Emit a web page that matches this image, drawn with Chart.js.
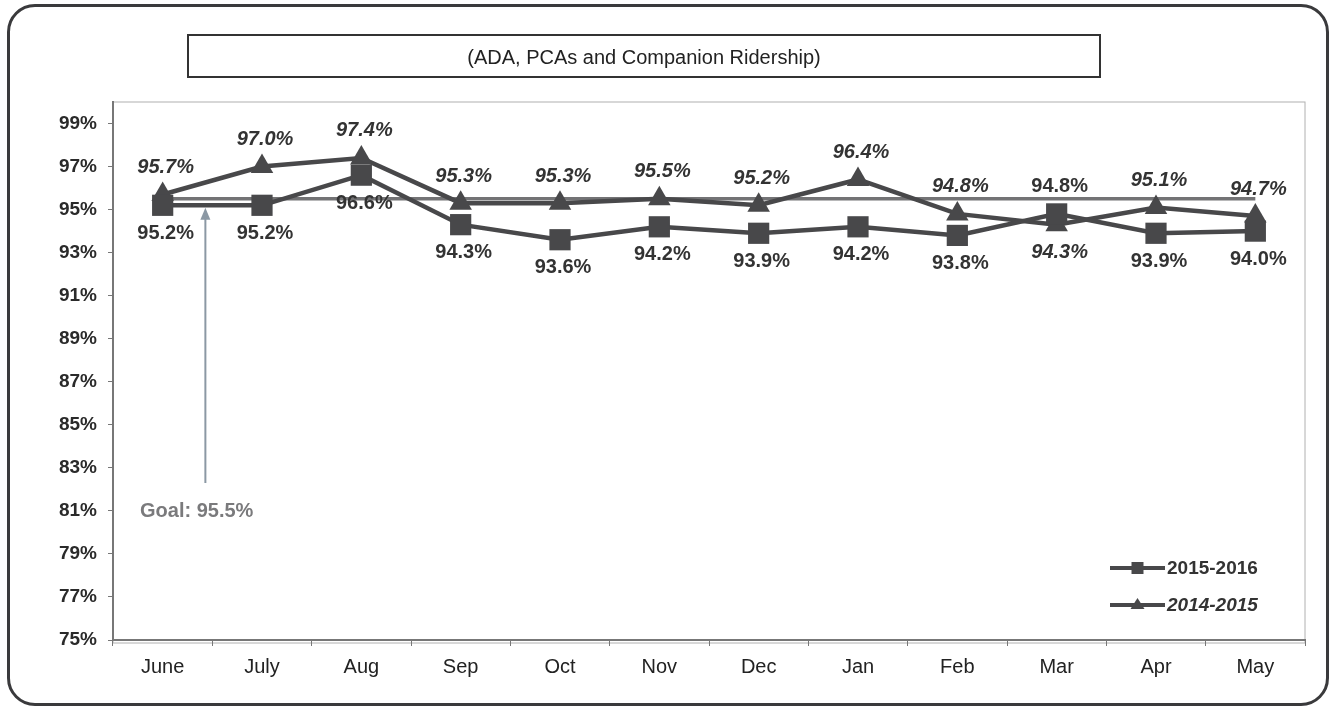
<!DOCTYPE html>
<html>
<head>
<meta charset="utf-8">
<script src="https://cdn.jsdelivr.net/npm/chart.js@4.4.0/dist/chart.umd.min.js"></script>
<style>
  body { margin: 0; background: #fff; }
  #wrap { position: relative; width: 1332px; height: 709px; }
  #frame {
    position: absolute; left: 7px; top: 4px; width: 1316px; height: 696px;
    border: 3px solid #3a3a3c; border-radius: 28px; pointer-events: none;
  }
  #titlebox {
    position: absolute; left: 187px; top: 34px; width: 910px; height: 40px;
    border: 2px solid #333; font: 20px "Liberation Sans", Arial, sans-serif;
    color: #222; text-align: center; line-height: 42px; pointer-events: none;
  }
</style>
</head>
<body>
<div id="wrap">
  <canvas id="chart" width="1332" height="709"></canvas>
  <div id="frame"></div>
  <div id="titlebox">(ADA, PCAs and Companion Ridership)</div>
</div>
<script>
// ======= DADOS =======
const meses = ["June", "July", "Aug", "Sep", "Oct", "Nov", "Dec", "Jan", "Feb", "Mar", "Apr", "May"];
const serie1516 = [95.2, 95.2, 96.6, 94.3, 93.6, 94.2, 93.9, 94.2, 93.8, 94.8, 93.9, 94.0];
const serie1415 = [95.7, 97.0, 97.4, 95.3, 95.3, 95.5, 95.2, 96.4, 94.8, 94.3, 95.1, 94.7];
const meta = 95.5;
const ticksY = [75, 77, 79, 81, 83, 85, 87, 89, 91, 93, 95, 97, 99];
// onde fica o rótulo de cada ponto (acima / abaixo)
const lado1516 = ["b", "b", "b", "b", "b", "b", "b", "b", "b", "a", "b", "b"];
const lado1415 = ["a", "a", "a", "a", "a", "a", "a", "a", "a", "b", "a", "a"];

const corSerie = "#48484a";
const fonte = '"Liberation Sans", Arial, sans-serif';

// ======= PLUGINS =======
const bordaPlot = {
  id: "bordaPlot",
  beforeDraw(chart) {
    const { ctx, chartArea: a } = chart;
    ctx.save();
    ctx.strokeStyle = "#b0b0b0";
    ctx.lineWidth = 1;
    ctx.strokeRect(a.left, a.top, a.right - a.left, a.bottom - a.top + 3);
    ctx.restore();
  },
};

const rotulos = {
  id: "rotulos",
  afterDatasetsDraw(chart) {
    const { ctx } = chart;
    ctx.save();
    ctx.fillStyle = "#333";
    ctx.textAlign = "center";
    ctx.textBaseline = "middle";
    [
      { idx: 1, lados: lado1516, italico: false },
      { idx: 2, lados: lado1415, italico: true },
    ].forEach(({ idx, lados, italico }) => {
      const ds = chart.data.datasets[idx];
      chart.getDatasetMeta(idx).data.forEach((pt, i) => {
        ctx.font = (italico ? "italic " : "") + "bold 20px " + fonte;
        const dy = lados[i] === "a" ? -27 : 28;
        ctx.fillText(ds.data[i].toFixed(1) + "%", pt.x + 3, pt.y + dy);
      });
    });
    ctx.restore();
  },
};

const anotacaoMeta = {
  id: "anotacaoMeta",
  afterDraw(chart) {
    const { ctx, scales } = chart;
    const x0 = scales.x.getPixelForValue(0);
    const x = x0 + (scales.x.getPixelForValue(1) - x0) * 0.43;
    const topo = scales.y.getPixelForValue(meta) + 9;
    const base = scales.y.getPixelForValue(82.3);
    ctx.save();
    ctx.strokeStyle = "#8b98a4";
    ctx.fillStyle = "#8b98a4";
    ctx.lineWidth = 2;
    ctx.beginPath();
    ctx.moveTo(x, base);
    ctx.lineTo(x, topo + 8);
    ctx.stroke();
    ctx.beginPath();
    ctx.moveTo(x, topo);
    ctx.lineTo(x - 5, topo + 12);
    ctx.lineTo(x + 5, topo + 12);
    ctx.closePath();
    ctx.fill();
    ctx.fillStyle = "#7a7a7c";
    ctx.font = "bold 20px " + fonte;
    ctx.textAlign = "left";
    ctx.textBaseline = "middle";
    ctx.fillText("Goal: 95.5%", scales.x.left + 27, scales.y.getPixelForValue(80.95));
    ctx.restore();
  },
};

const legenda = {
  id: "legenda",
  afterDraw(chart) {
    const { ctx, chartArea: a } = chart;
    const itens = [
      { nome: "2015-2016", forma: "rect", italico: false, y: a.bottom - 72 },
      { nome: "2014-2015", forma: "triangle", italico: true, y: a.bottom - 35 },
    ];
    ctx.save();
    itens.forEach((it) => {
      const x1 = a.right - 195;
      const x2 = a.right - 140;
      const xm = (x1 + x2) / 2;
      ctx.strokeStyle = corSerie;
      ctx.fillStyle = corSerie;
      ctx.lineWidth = 4;
      ctx.beginPath();
      ctx.moveTo(x1, it.y);
      ctx.lineTo(x2, it.y);
      ctx.stroke();
      ctx.beginPath();
      if (it.forma === "rect") {
        ctx.rect(xm - 6, it.y - 6, 12, 12);
      } else {
        ctx.moveTo(xm, it.y - 7);
        ctx.lineTo(xm - 7, it.y + 4);
        ctx.lineTo(xm + 7, it.y + 4);
        ctx.closePath();
      }
      ctx.fill();
      ctx.fillStyle = "#333";
      ctx.font = (it.italico ? "italic " : "") + "bold 19px " + fonte;
      ctx.textAlign = "left";
      ctx.textBaseline = "middle";
      ctx.fillText(it.nome, x2 + 2, it.y + 1);
    });
    ctx.restore();
  },
};

// ======= GRÁFICO =======
new Chart(document.getElementById("chart"), {
  type: "line",
  data: {
    labels: meses,
    datasets: [
      {
        label: "Goal",
        data: meses.map(() => meta),
        borderColor: "#737375",
        borderWidth: 3.5,
        pointRadius: 0,
        order: 3,
      },
      {
        label: "2015-2016",
        data: serie1516,
        borderColor: corSerie,
        backgroundColor: corSerie,
        borderWidth: 4.5,
        pointStyle: "rect",
        pointRadius: 15,
        pointBorderWidth: 0,
        order: 1,
      },
      {
        label: "2014-2015",
        data: serie1415,
        borderColor: corSerie,
        backgroundColor: corSerie,
        borderWidth: 4.5,
        pointStyle: "triangle",
        pointRadius: 13,
        pointBorderWidth: 0,
        order: 2,
      },
    ],
  },
  options: {
    responsive: false,
    animation: false,
    layout: { padding: { left: 0, top: 102, right: 27, bottom: 0 } },
    plugins: {
      legend: { display: false },
      title: { display: false },
      tooltip: { enabled: false },
    },
    scales: {
      x: {
        offset: true,
        grid: {
          offset: true,
          drawOnChartArea: false,
          tickLength: 6,
          color: "#777",
        },
        border: { color: "#777", width: 2 },
        ticks: {
          color: "#222",
          font: { family: fonte, size: 20 },
          padding: 9,
        },
        afterFit(s) { s.height = 69; },
      },
      y: {
        min: 75,
        max: 100,
        afterBuildTicks(s) { s.ticks = ticksY.map((v) => ({ value: v })); },
        grid: { drawOnChartArea: false, tickLength: 5, color: "#777" },
        border: { color: "#777", width: 2 },
        ticks: {
          color: "#2a2a2a",
          font: { family: fonte, size: 19, weight: "bold" },
          padding: 11,
          callback: (v) => v + "%",
        },
        afterFit(s) { s.width = 113; },
      },
    },
  },
  plugins: [bordaPlot, rotulos, anotacaoMeta, legenda],
});
</script>
</body>
</html>
